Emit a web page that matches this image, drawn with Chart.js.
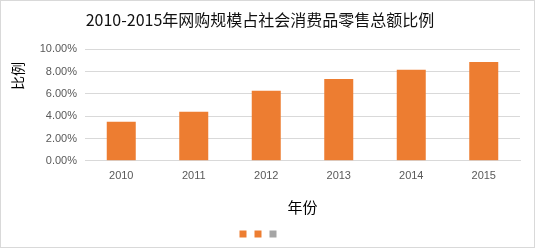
<!DOCTYPE html>
<html>
<head>
<meta charset="utf-8">
<script src="https://cdn.jsdelivr.net/npm/chart.js@4/dist/chart.umd.min.js"></script>
<style>
    body { margin: 0; background: #fff; }
    #wrap { position: relative; width: 535px; height: 248px; }
    #frame { position: absolute; left: 0; top: 0; width: 535px; height: 248px; box-sizing: border-box; border: 1px solid #d9d9d9; pointer-events: none; }
</style>
</head>
<body>
<div id="wrap">
    <canvas id="shareChart" width="535" height="248"></canvas>
    <div id="frame"></div>
</div>
<script>
// 数据
var years = ['2010', '2011', '2012', '2013', '2014', '2015'];
var shares = [3.49, 4.39, 6.27, 7.34, 8.15, 8.86];
var legendColors = ['#ED7D31', '#ED7D31', '#A5A5A5'];

var cjkFont = '"Noto Sans CJK SC", sans-serif';

// y轴标题 (比例) 画在左上
var yTitlePlugin = {
    id: 'yTitle',
    afterDraw: function (chart) {
        var ctx = chart.ctx;
        ctx.save();
        ctx.translate(18, 76);
        ctx.rotate(-Math.PI / 2);
        ctx.font = '14px ' + cjkFont;
        ctx.fillStyle = '#000';
        ctx.textAlign = 'center';
        ctx.textBaseline = 'middle';
        ctx.fillText('比例', 0, 0);
        ctx.restore();
    }
};

var ctx = document.getElementById('shareChart').getContext('2d');

new Chart(ctx, {
    type: 'bar',
    data: {
        labels: years,
        datasets: [{
            label: '比例',
            data: shares,
            backgroundColor: '#ED7D31',
            borderWidth: 0,
            barPercentage: 0.4,
            categoryPercentage: 1.0
        }]
    },
    options: {
        responsive: false,
        animation: false,
        layout: {
            padding: { left: 0, right: 15, top: 0, bottom: 0 }
        },
        plugins: {
            title: {
                display: true,
                text: '2010-2015年网购规模占社会消费品零售总额比例',
                color: '#111',
                font: { family: cjkFont, size: 16, weight: 'normal' },
                padding: { top: 10, bottom: 20 }
            },
            legend: {
                position: 'bottom',
                labels: {
                    boxWidth: 7,
                    boxHeight: 7,
                    padding: 4,
                    font: { size: 8 },
                    generateLabels: function () {
                        return legendColors.map(function (c, i) {
                            return { text: '', fillStyle: c, strokeStyle: c, lineWidth: 0, hidden: false, index: i };
                        });
                    }
                },
                onClick: null
            },
            tooltip: { enabled: false }
        },
        scales: {
            x: {
                grid: { display: false, drawTicks: false },
                border: { display: true, color: '#d9d9d9' },
                ticks: {
                    color: '#595959',
                    padding: 9,
                    font: { family: '"Liberation Sans", sans-serif', size: 11 }
                },
                title: {
                    display: true,
                    text: '年份',
                    color: '#000',
                    font: { family: cjkFont, size: 15 },
                    padding: { top: 6, bottom: 10 }
                }
            },
            y: {
                min: 0,
                max: 10,
                afterFit: function (scale) {
                    scale.width = 85;
                },
                grid: { color: '#d9d9d9', drawTicks: false },
                border: { display: false },
                ticks: {
                    stepSize: 2,
                    color: '#595959',
                    padding: 8,
                    font: { family: '"Liberation Sans", sans-serif', size: 11 },
                    callback: function (v) {
                        return v.toFixed(2) + '%';
                    }
                }
            }
        }
    },
    plugins: [yTitlePlugin]
});
</script>
</body>
</html>
